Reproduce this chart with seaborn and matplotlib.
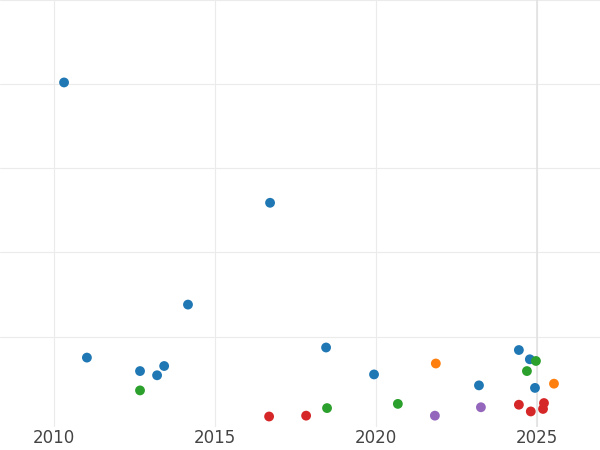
import numpy as np
import pandas as pd
import matplotlib
matplotlib.use("Agg")
import matplotlib.pyplot as plt
import seaborn as sns

# values (y has no labels, unit = one grid step)
years = [2010.31, 2011.02, 2012.67, 2013.2, 2013.42, 2014.16, 2016.71, 2018.45, 2019.94, 2023.2, 2024.44, 2024.78, 2024.94,
         2012.67, 2018.48, 2020.68, 2024.69, 2024.97,
         2021.86, 2025.53,
         2016.68, 2017.83, 2024.44, 2024.81, 2025.22, 2025.19,
         2021.83, 2023.26]
values = [4.02, 0.75, 0.59, 0.54, 0.65, 1.38, 2.59, 0.87, 0.55, 0.42, 0.84, 0.73, 0.39,
          0.36, 0.15, 0.20, 0.59, 0.71,
          0.68, 0.44,
          0.05, 0.06, 0.19, 0.11, 0.21, 0.14,
          0.06, 0.16]
groups = ["a"] * 13 + ["b"] * 5 + ["c"] * 2 + ["d"] * 6 + ["e"] * 2
palette = {"a": "#1f77b4", "b": "#2ca02c", "c": "#ff7f0e", "d": "#d62728", "e": "#9467bd"}

df = pd.DataFrame({"year": years, "value": values, "group": groups})

sns.set_style("whitegrid")
fig = plt.figure(figsize=(6, 4.5), dpi=100)
ax = fig.add_axes([0, 0.052, 1, 0.948])
sns.scatterplot(data=df, x="year", y="value", hue="group", palette=palette,
                s=50, edgecolor="none", legend=False, ax=ax, zorder=3)
ax.axvline(2025, color="#e2e2e2", lw=1.2, zorder=1)
ax.set_xlim(2008.32, 2026.96)
ax.set_ylim(-0.07, 4.98)
ax.set_xticks([2010, 2015, 2020, 2025])
ax.set_yticks([1, 2, 3, 4, 5])
ax.set_yticklabels([])
ax.tick_params(axis="x", labelsize=12, colors="#444444", length=0, pad=2)
ax.tick_params(axis="y", length=0)
ax.grid(color="#ebebeb", lw=0.8)
ax.set_xlabel("")
ax.set_ylabel("")
for s in ax.spines.values():
    s.set_visible(False)
fig.savefig("out.png", dpi=100)
